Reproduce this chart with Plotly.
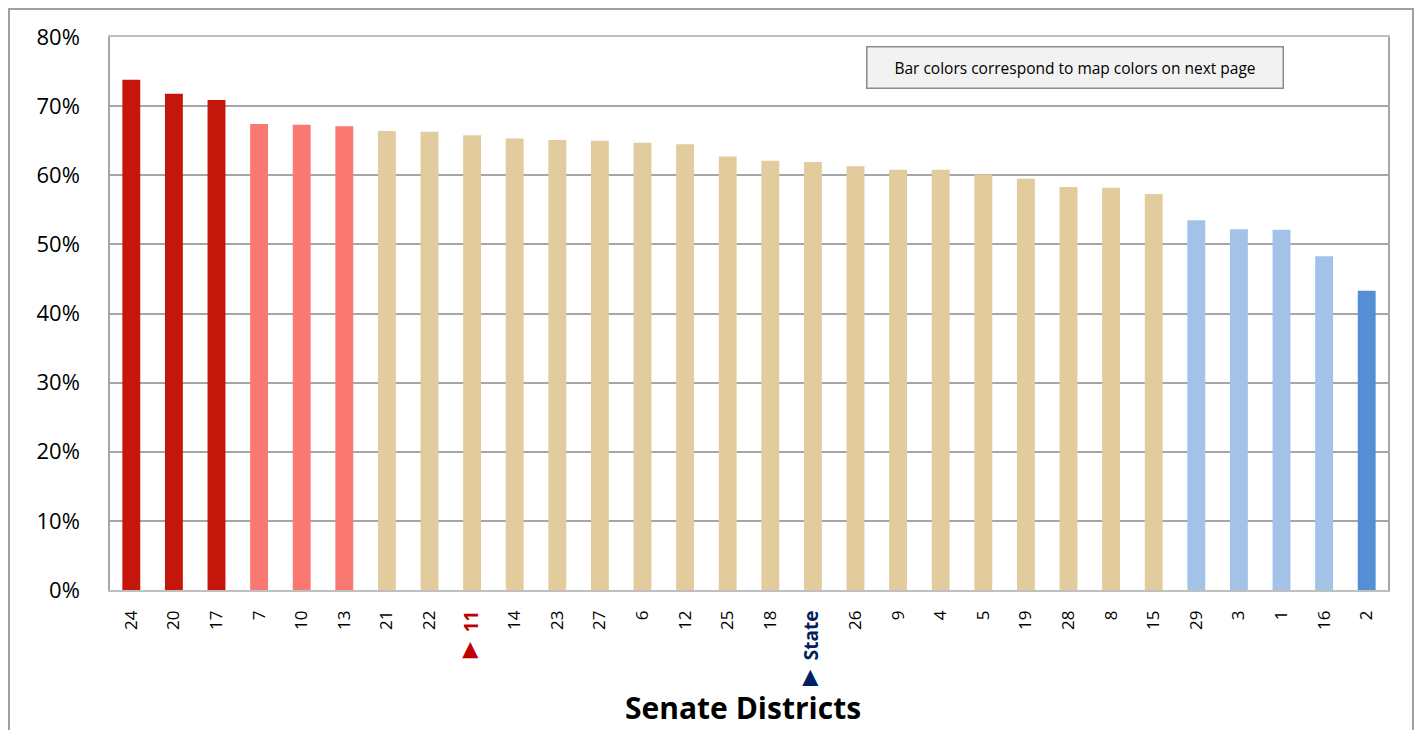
import plotly.graph_objects as go

districts = ["24", "20", "17", "7", "10", "13", "21", "22", "11", "14", "23", "27", "6", "12",
             "25", "18", "State", "26", "9", "4", "5", "19", "28", "8", "15", "29", "3", "1", "16", "2"]
values = [73.8, 71.8, 70.9, 67.4, 67.3, 67.1, 66.4, 66.3, 65.8, 65.3, 65.1, 65.0, 64.7, 64.5,
          62.7, 62.1, 61.9, 61.3, 60.8, 60.8, 60.1, 59.5, 58.3, 58.2, 57.3, 53.5, 52.2, 52.1, 48.3, 43.3]
tiers = ["high", "high", "high", "upper", "upper", "upper",
         "mid", "mid", "mid", "mid", "mid", "mid", "mid", "mid", "mid", "mid", "mid", "mid",
         "mid", "mid", "mid", "mid", "mid", "mid", "mid",
         "lower", "lower", "lower", "lower", "low"]
y_ticks = [0, 10, 20, 30, 40, 50, 60, 70, 80]
y_tick_labels = [f"{v}%" for v in y_ticks]

tier_colors = {"high": "#C4160A", "upper": "#FA7872", "mid": "#E2CB9C",
               "lower": "#A3C2E8", "low": "#558ED5"}
bar_colors = [tier_colors[t] for t in tiers]

highlight = {"11": "#C00000", "State": "#002060"}
tick_text = []
for d in districts:
    if d in highlight:
        tick_text.append(f"<span style='color:{highlight[d]}'><span style='font-size:27px'>\u25BA</span>"
                         f" <b><span style='font-size:19px'>{d}</span></b></span>")
    else:
        tick_text.append(d)

FONT = "Open Sans"

fig = go.Figure()
fig.add_trace(go.Bar(
    x=districts, y=values, marker=dict(color=bar_colors, line=dict(width=0)),
    width=0.42, hoverinfo="x+y",
))

fig.update_layout(
    width=1407, height=722,
    margin=dict(l=102, r=27, t=29, b=140),
    paper_bgcolor="white", plot_bgcolor="white",
    showlegend=False,
    font=dict(family=FONT, color="black"),
    xaxis=dict(
        type="category", tickmode="array", tickvals=districts, ticktext=tick_text,
        tickangle=-90, tickfont=dict(size=17, family=FONT, color="black"),
        showgrid=False, showline=True, linecolor="#BFBFBF", linewidth=1.5, mirror=True,
        ticks="", ticklabelstandoff=12,
    ),
    yaxis=dict(
        range=[0, 80], tickmode="array", tickvals=y_ticks, ticktext=y_tick_labels,
        tickfont=dict(size=22, family=FONT, color="black"),
        showgrid=True, gridcolor="#A6A6A6", gridwidth=1.5,
        showline=True, linecolor="#A6A6A6", linewidth=1.5, mirror=True,
        ticks="", ticklabelstandoff=24, zeroline=False,
    ),
)

# outer chart border
fig.add_shape(type="rect", xref="paper", yref="paper",
              x0=(9 - 110) / 1278, x1=(1413 - 110) / 1278, y0=-0.30, y1=(590 - 9) / 553,
              line=dict(color="#A0A0A0", width=2), fillcolor="rgba(0,0,0,0)", layer="below")

# note box
fig.add_annotation(
    xref="paper", yref="paper", x=(1075 - 110) / 1278, y=(590 - 68) / 553,
    text="Bar colors correspond to map colors on next page", showarrow=False,
    font=dict(size=15.5, family=FONT, color="black"),
    bgcolor="#F2F2F2", bordercolor="#8C8C8C", borderwidth=1.5,
    width=413, height=38, xanchor="center", yanchor="middle",
)

# axis title
fig.add_annotation(
    xref="paper", yref="paper", x=(743 - 110) / 1278, y=(590 - 707) / 553,
    text="<b>Senate Districts</b>", showarrow=False,
    font=dict(size=30, family=FONT, color="black"),
    xanchor="center", yanchor="middle", borderpad=0,
)

fig.write_html("out.html")
